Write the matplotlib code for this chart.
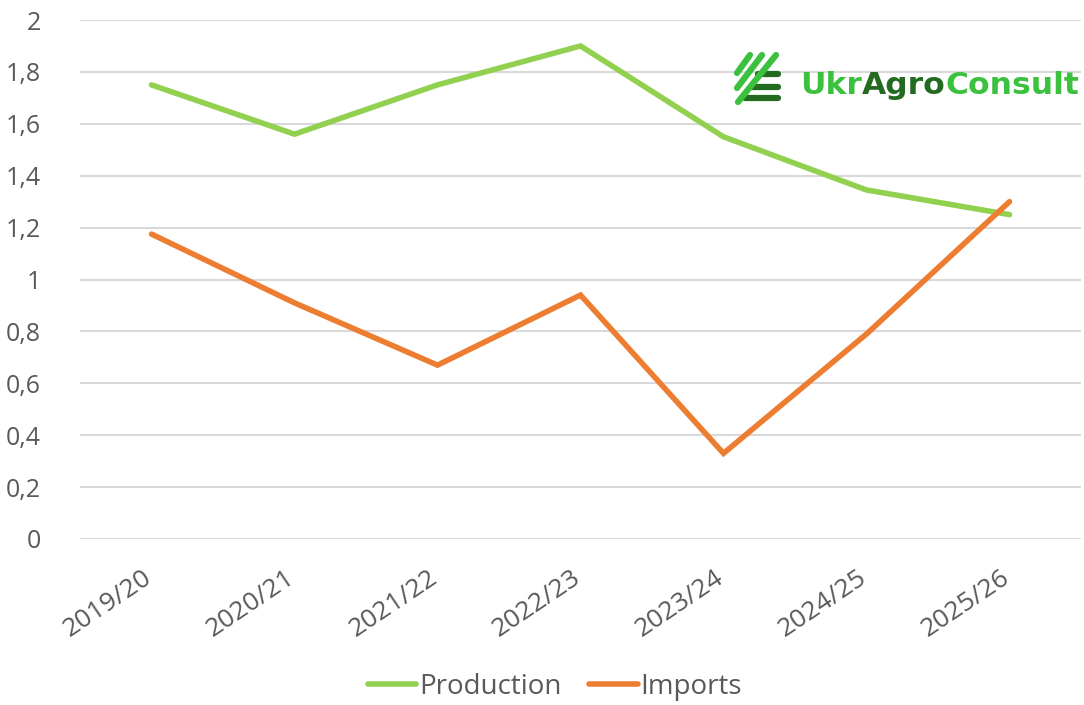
import numpy as np
import matplotlib
matplotlib.use("Agg")
import matplotlib.pyplot as plt
from matplotlib.lines import Line2D
from matplotlib.transforms import ScaledTranslation

plt.rcParams['font.family'] = ['Open Sans', 'DejaVu Sans']

# Datos
seasons = ["2019/20", "2020/21", "2021/22", "2022/23", "2023/24", "2024/25", "2025/26"]
production = [1.75, 1.56, 1.75, 1.90, 1.55, 1.345, 1.25]
imports = [1.175, 0.91, 0.67, 0.94, 0.33, 0.79, 1.30]
y_ticks = [0, 0.2, 0.4, 0.6, 0.8, 1.0, 1.2, 1.4, 1.6, 1.8, 2.0]

W, H = 1084, 705
fig = plt.figure(figsize=(W / 100, H / 100), dpi=100)
ax = fig.add_axes([80 / W, 1 - 539 / H, 1001 / W, 519 / H])

x = np.arange(len(seasons))
ax.plot(x, production, color="#92d050", lw=4, solid_capstyle="round", solid_joinstyle="miter", label="Production")
ax.plot(x, imports, color="#ed7d31", lw=4, solid_capstyle="round", solid_joinstyle="miter", label="Imports")

ax.set_xlim(-0.5, len(seasons) - 0.5)
ax.set_ylim(0, 2)
ax.set_yticks(y_ticks)
ax.set_yticklabels([("%g" % v).replace(".", ",") for v in y_ticks])
ax.set_xticks(x)
ax.set_xticklabels(seasons, rotation=34, ha="right", rotation_mode="anchor")
ax.tick_params(axis="y", length=0, labelsize=18, labelcolor="#595959", pad=28)
ax.tick_params(axis="x", length=0, labelsize=19, labelcolor="#595959", pad=19)
shift = ScaledTranslation(-9 / 100, 0, fig.dpi_scale_trans)
for lab in ax.get_xticklabels():
    lab.set_transform(lab.get_transform() + shift)
ax.grid(axis="y", color="#d9d9d9", lw=1.5)
ax.set_axisbelow(True)
for s in ax.spines.values():
    s.set_visible(False)

leg = fig.legend(loc="center", bbox_to_anchor=(555 / W, 1 - 687 / H), ncol=2, frameon=False,
                 fontsize=20, labelcolor="#595959", handlelength=1.75, handletextpad=0.1,
                 columnspacing=1.0)
for h in leg.get_lines():
    h.set_linewidth(4)

# Logo UkrAgroConsult
light = "#3cc13f"
dark = "#236b21"

def px(xp, yp):
    return xp / W, 1 - yp / H

for (x0, x1, yy) in [(758, 778, 74), (752, 778, 87), (745, 778, 98)]:
    a, b = px(x0, yy)
    c, d = px(x1, yy)
    fig.add_artist(Line2D([a, c], [b, d], color=dark, lw=4.5, solid_capstyle="round", zorder=1))
for (x0, y0, x1, y1) in [(737, 73, 750, 55), (737, 88, 762, 55), (738, 102, 776, 55)]:
    a, b = px(x0, y0)
    c, d = px(x1, y1)
    fig.add_artist(Line2D([a, c], [b, d], color=light, lw=4.5, solid_capstyle="round", zorder=2))

fig.canvas.draw()
r = fig.canvas.get_renderer()
parts = [("Ukr", light), ("Agro", dark), ("Consult", light)]
fs = 24
probe = fig.text(0, 0, "UkrAgroConsult", fontsize=fs, fontweight="bold", family=["DejaVu Sans"])
fs = fs * 280 / probe.get_window_extent(r).width
probe.remove()
xpos = 800
for part, col in parts:
    t = fig.text(*px(xpos, 94), part, color=col, fontsize=fs, fontweight="bold",
                 family=["DejaVu Sans"], va="baseline", ha="left")
    xpos += t.get_window_extent(r).width

fig.savefig("out.png", dpi=100, facecolor="white")
